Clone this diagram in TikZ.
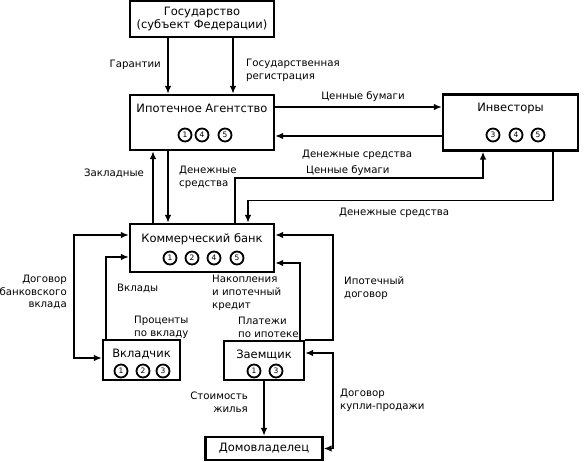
\documentclass[tikz,border=0pt]{standalone}
\usepackage{fontspec}
\setmainfont{DejaVu Sans}
\usetikzlibrary{arrows.meta}

\begin{document}
\begin{tikzpicture}[x=1pt,y=-1pt,
    orgbox/.style={draw,line width=2.2pt,inner sep=0pt,align=center,
                   font=\fontsize{11.5}{13.5}\selectfont},
    boxtitle/.style={inner sep=0pt,font=\fontsize{11.5}{13.5}\selectfont},
    numc/.style={draw,circle,line width=1.8pt,minimum size=13pt,inner sep=0pt,
                 font=\fontsize{7.5}{7.5}\selectfont},
    lbl/.style={inner sep=0pt,font=\fontsize{10.2}{12.8}\selectfont},
    arr/.style={-{Latex[length=8pt,width=6.5pt]},line width=1.8pt},
    dblarr/.style={{Latex[length=8pt,width=6.5pt]}-{Latex[length=8pt,width=6.5pt]},line width=1.8pt}
  ]
    \useasboundingbox (0,0) rectangle (588,462);
    % boxes
    \node[orgbox,minimum width=144pt,minimum height=36pt] (gov) at (202,19)
      {Государство\\(субъект Федерации)};
    \node[orgbox,minimum width=144pt,minimum height=55pt] (agency) at (202,122.5) {};
    \node[orgbox,minimum width=135pt,minimum height=56pt] (investors) at (510.5,122.5) {};
    \node[orgbox,minimum width=144pt,minimum height=48pt] (bank) at (202,248) {};
    \node[orgbox,minimum width=77pt,minimum height=40pt] (vklad) at (141.5,360) {};
    \node[orgbox,minimum width=80pt,minimum height=39pt] (zaem) at (264,360.5) {};
    \node[orgbox,minimum width=117pt,minimum height=23pt] (domov) at (264,448.5) {Домовладелец};
    % titles and numbers inside boxes
    \node[boxtitle] (agencyt) at (202,108) {Ипотечное Агентство};
    \foreach \n/\x in {1/185,4/202,5/225} \node[numc] (ag\n) at (\x,135) {\n};
    \node[boxtitle] (investorst) at (510.5,109) {Инвесторы};
    \foreach \n/\x in {3/493,4/516,5/538} \node[numc] (inv\n) at (\x,135) {\n};
    \node[boxtitle] (bankt) at (202,239) {Коммерческий банк};
    \foreach \n/\x in {1/170,2/192,4/214,5/237} \node[numc] (bk\n) at (\x,258) {\n};
    \node[boxtitle] (vkladt) at (141.5,354) {Вкладчик};
    \foreach \n/\x in {1/121,2/143,3/163} \node[numc] (vk\n) at (\x,371) {\n};
    \node[boxtitle] (zaemt) at (264,355) {Заемщик};
    \foreach \n/\x in {1/254,3/276} \node[numc] (zm\n) at (\x,371) {\n};
    % connectors
    \draw[arr] ([xshift=-34pt]gov.south) -- ([xshift=-34pt]agency.north);
    \draw[arr] ([xshift=31pt]gov.south) -- ([xshift=31pt]agency.north);
    \draw[arr] ([yshift=15.5pt]agency.east) -- ([yshift=15.5pt]investors.west);
    \draw[arr] ([yshift=-13.5pt]investors.west) -- ([yshift=-13.5pt]agency.east);
    \draw[arr] ([xshift=-49pt]bank.north) -- ([xshift=-49pt]agency.south);
    \draw[arr] ([xshift=-34pt]agency.south) -- ([xshift=-34pt]bank.north);
    \draw[arr] ([xshift=33pt]bank.north) -- ++(0,-45) -| ([xshift=-27.5pt]investors.south);
    \draw[arr] ([xshift=42.5pt]investors.south) -- ++(0,49) -| ([xshift=46pt]bank.north);
    \draw[dblarr] ([yshift=13pt]bank.west) -- ++(-55,0) |- ([yshift=2pt]vklad.west);
    \draw[arr] ([xshift=-35.5pt]vklad.north) |- ([yshift=-9pt]bank.west);
    \draw[arr] ([xshift=36pt]zaem.north) |- ([yshift=-15pt]bank.east);
    \draw[arr] (zaem.north east) -- ++(28,0) |- ([yshift=13pt]bank.east);
    \draw[arr] (zaem.south) -- (domov.north);
    \draw[dblarr] ([yshift=7.5pt]zaem.east) -- ++(28,0) |- (domov.east);
    % labels
    \node[lbl,anchor=east] (garant) at (161,65) {Гарантии};
    \node[lbl,anchor=west,align=left] (gosreg) at (246,70) {Государственная\\регистрация};
    \node[lbl] (secAI) at (363,97) {Ценные бумаги};
    \node[lbl,anchor=west] (moneyIA) at (302,155) {Денежные средства};
    \node[lbl,anchor=west] (secBI) at (306,171) {Ценные бумаги};
    \node[lbl,anchor=west] (moneyIB) at (339,213) {Денежные средства};
    \node[lbl] (zaklad) at (114,173) {Закладные};
    \node[lbl,anchor=west,align=left] (moneyAB) at (179,177) {Денежные\\средства};
    \node[lbl,anchor=east,align=right] (dogvklad) at (67,292) {Договор\\банковского\\вклада};
    \node[lbl,anchor=west] (vklady) at (117,288) {Вклады};
    \node[lbl,anchor=west,align=left] (proc) at (134,327) {Проценты\\по вкладу};
    \node[lbl,anchor=west,align=left] (nakopl) at (212,293) {Накопления\\и ипотечный\\кредит};
    \node[lbl,anchor=west,align=left] (plat) at (238,327) {Платежи\\по ипотеке};
    \node[lbl,anchor=west,align=left] (ipdog) at (344,288) {Ипотечный\\договор};
    \node[lbl,anchor=east,align=right] (stoim) at (248,402) {Стоимость\\жилья};
    \node[lbl,anchor=west,align=left] (kupli) at (340,400) {Договор\\купли-продажи};
\end{tikzpicture}
\end{document}
